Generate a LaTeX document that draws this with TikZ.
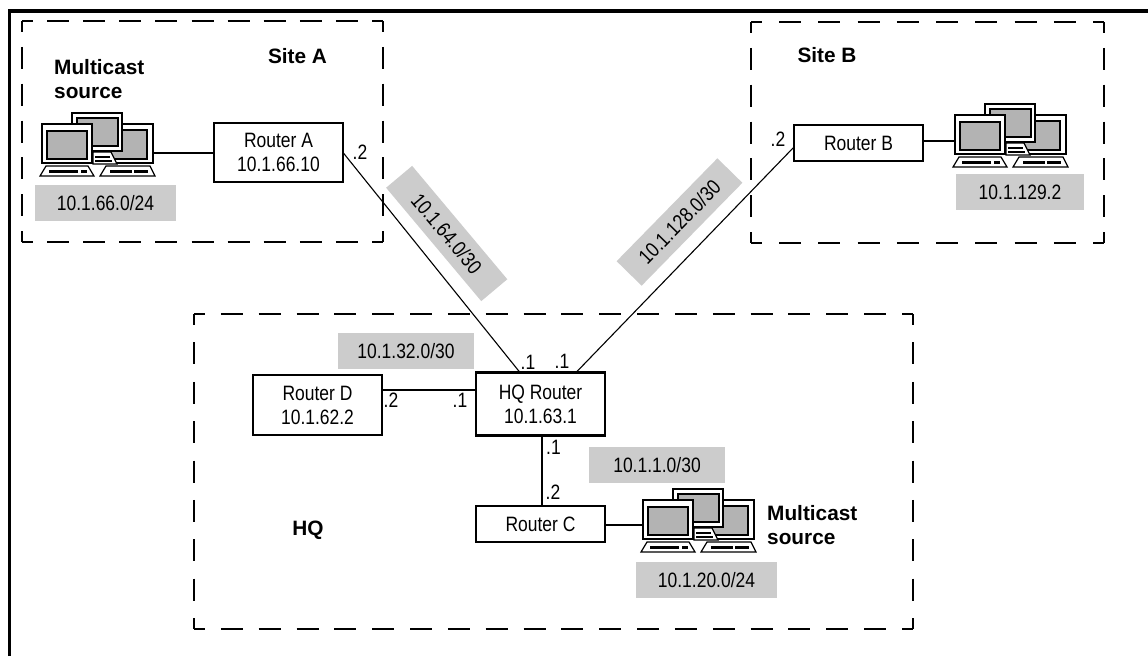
\documentclass[tikz,border=0pt]{standalone}
\usepackage{fontspec}
\setmainfont{Liberation Sans}
\newfontfamily\narrowfont[FakeStretch=0.84]{Liberation Sans}
\newcommand{\dashside}[5]{% x1 y1 x2 y2 length-in-pt
  \pgfmathsetmacro{\nper}{round(#5/38)}
  \pgfmathsetmacro{\gapw}{#5/\nper-22}
  \draw[line width=2.2pt,dash pattern=on 22pt off \gapw pt,dash phase=11pt] (#1,#2) -- (#3,#4);}
\newcommand{\dashregion}[4]{% x1 y1 x2 y2
  \pgfmathsetmacro{\wid}{#3-#1}
  \pgfmathsetmacro{\hei}{#4-#2}
  \dashside{#1}{#2}{#3}{#2}{\wid}
  \dashside{#1}{#4}{#3}{#4}{\wid}
  \dashside{#1}{#2}{#1}{#4}{\hei}
  \dashside{#3}{#2}{#3}{#4}{\hei}}
\definecolor{labelgray}{HTML}{CCCCCC}
\definecolor{screengray}{HTML}{B3B3B3}
\tikzset{
  x=1pt,y=-1pt,
  routerbox/.style={draw,line width=2.2pt,fill=white,minimum width=129pt,inner sep=0pt,outer sep=0pt,
    align=center,font=\narrowfont\fontsize{20.8}{24}\selectfont},
  subnet/.style={fill=labelgray,inner sep=0pt,outer sep=0pt,minimum height=36pt,
    font=\narrowfont\fontsize{20.8}{24}\selectfont},
  iface/.style={inner sep=0pt,font=\narrowfont\fontsize{20.8}{24}\selectfont},
  heading/.style={inner sep=0pt,align=left,font=\bfseries\fontsize{20.8}{24}\selectfont},
  link/.style={line width=2.2pt},
  wanlink/.style={line width=1.1pt},
  monitor/.style={draw,line width=2.6pt,fill=white},
  screen/.style={draw,line width=2.4pt,fill=screengray},
  keyboard/.style={draw,line width=1.2pt,fill=white},
  pics/workstations/.style={code={
    \draw[monitor] (60,12) rectangle (113,51);
    \draw[screen] (65,18) rectangle (107,47);
    \draw[keyboard] (66,54) -- (110,54) -- (115,64) -- (60,64) -- cycle;
    \fill (70,58) rectangle (92,61);
    \fill (94,58) rectangle (108,61);
    \draw[keyboard] (53,40) -- (71,40) -- (77,52) -- (53,52) -- cycle;
    \fill (55,44) rectangle (70,46);
    \fill (55,48) rectangle (72,50);
    \draw[monitor] (32,1) rectangle (82,39);
    \draw[screen] (37,6) rectangle (78,34);
    \draw[monitor] (2,12) rectangle (52,51);
    \draw[screen] (7,19) rectangle (47,47);
    \draw[keyboard] (6,54) -- (48,54) -- (54,64) -- (0,64) -- cycle;
    \fill (9,58) rectangle (38,61);
    \fill (41,58) rectangle (47,61);
  }},
}
\begin{document}
\begin{tikzpicture}
\useasboundingbox (0,0) rectangle (1148,656);
\fill[white] (0,0) rectangle (1148,656);

% subnet bands
\node[subnet,minimum width=141pt] (n66) at (105.5,203) {10.1.66.0/24};
\node[subnet,minimum width=128pt] (n129) at (1020,192) {10.1.129.2};
\node[subnet,minimum width=136pt] (n32) at (406,351) {10.1.32.0/30};
\node[subnet,minimum width=136pt] (n1) at (657,465) {10.1.1.0/30};
\node[subnet,minimum width=141pt] (n20) at (706.5,580) {10.1.20.0/24};
\node[subnet,minimum width=148pt,minimum height=34pt,rotate=-50] (n64) at (446.7,233.5) {10.1.64.0/30};
\node[subnet,minimum width=144pt,minimum height=35pt,rotate=45.6] (n128) at (679.5,222) {10.1.128.0/30};

% outer frame
\draw[line width=3.2pt] (9.7,656) -- (9.7,11) -- (1148,11);

% dashed regions
\dashregion{22}{21}{383}{242}
\dashregion{751}{22}{1104}{243}
\dashregion{194}{314}{913}{629}

% workstations
\pic at (40,112) {workstations};
\pic at (953,103) {workstations};
\pic at (641,488) {workstations};
\coordinate (pca) at (153,153);
\coordinate (pcb) at (954,141);
\coordinate (pcc) at (642,525);

% routers
\node[routerbox,minimum height=59pt] (ra) at (278.5,152.5) {Router A\\10.1.66.10};
\node[routerbox,minimum height=36pt] (rb) at (858.5,143) {Router B};
\node[routerbox,minimum height=60pt] (rd) at (317.5,405) {Router D\\10.1.62.2};
\node[routerbox,minimum height=63pt] (hq) at (540.5,404) {HQ Router\\10.1.63.1};
\node[routerbox,minimum height=36pt] (rc) at (540.5,524) {Router C};

% connectors
\draw[link] (pca) -- (ra.west |- pca);
\draw[link] (rb.east |- pcb) -- (pcb);
\draw[link] (rc.east |- pcc) -- (pcc);
\draw[link] ([yshift=15pt]rd.east) -- ([yshift=14pt]hq.west);
\draw[link] ([xshift=1.5pt]hq.south) -- ([xshift=1.5pt]rc.north);
\draw[wanlink] (ra.east) -- ([xshift=-20.5pt]hq.north);
\draw[wanlink] ([yshift=-4pt]rb.west) -- ([xshift=35.5pt]hq.north);

% interface labels
\node[iface] (ia) at (360,152) {.2};
\node[iface] (ib) at (778,139) {.2};
\node[iface] (id) at (391,400) {.2};
\node[iface] (ih1) at (460,400) {.1};
\node[iface] (ih2) at (528,362) {.1};
\node[iface] (ih3) at (562,361) {.1};
\node[iface] (ih4) at (553.5,447) {.1};
\node[iface] (ic) at (553,492) {.2};

% headings
\node[heading,anchor=west] (msa) at (54,79) {Multicast\\source};
\node[heading,anchor=west] (msc) at (767,525) {Multicast\\source};
\node[heading] (sa) at (297.5,56) {Site A};
\node[heading] (sb) at (827,55) {Site B};
\node[heading] (hql) at (308,530) {HQ};
\end{tikzpicture}
\end{document}
